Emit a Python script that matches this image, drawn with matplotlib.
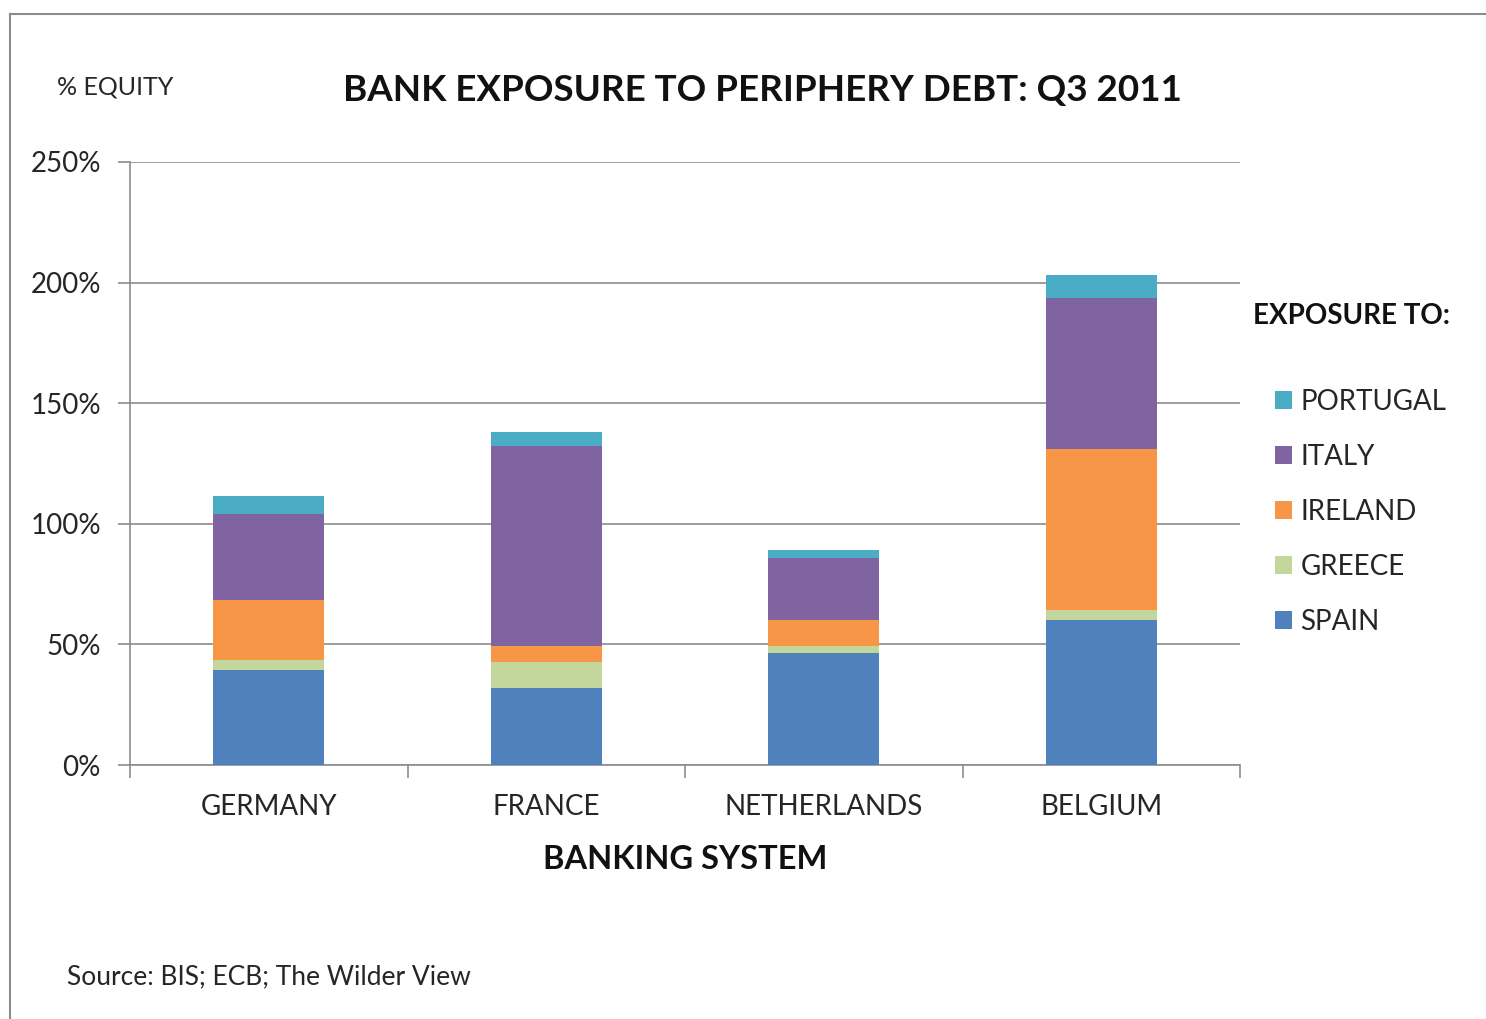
import matplotlib
matplotlib.use("Agg")
import matplotlib.pyplot as plt
from matplotlib.patches import Patch
from matplotlib.lines import Line2D
import numpy as np

plt.rcParams['font.family'] = ['Lato', 'DejaVu Sans']

countries = ["GERMANY", "FRANCE", "NETHERLANDS", "BELGIUM"]
spain    = [39.4, 31.9, 46.6, 60.1]
greece   = [4.1, 10.8, 2.7, 4.2]
ireland  = [24.9, 6.6, 10.8, 66.6]
italy    = [35.7, 83.0, 25.6, 62.9]
portugal = [7.4, 5.8, 3.4, 9.4]

series_names = ["SPAIN", "GREECE", "IRELAND", "ITALY", "PORTUGAL"]
series_vals = [spain, greece, ireland, italy, portugal]
colors = ["#4F81BD", "#C3D69B", "#F79646", "#8064A2", "#4BACC6"]
yticks = [0, 50, 100, 150, 200, 250]
ytick_labels = ["0%", "50%", "100%", "150%", "200%", "250%"]

fig = plt.figure(figsize=(14.86, 10.19), dpi=100)
W, H = 1486, 1019
ax = fig.add_axes([130 / W, 1 - 765 / H, (1240 - 130) / W, (765 - 162) / H])

x = np.arange(len(countries))
bottom = np.zeros(len(countries))
for name, vals, c in zip(series_names, series_vals, colors):
    ax.bar(x, vals, width=0.4, bottom=bottom, color=c, label=name, zorder=3)
    bottom += np.array(vals)

ax.set_xlim(-0.5, len(countries) - 0.5)
ax.set_ylim(0, 250)
ax.set_yticks(yticks)
ax.set_yticklabels(ytick_labels, fontsize=20, color="#262626")
ax.yaxis.grid(True, color="#8c8c8c", linewidth=1.2, zorder=0)
ax.set_xticks(x)
ax.set_xticklabels(countries, fontsize=20, color="#262626")
ax.tick_params(axis='x', length=0, pad=21)
ax.tick_params(axis='y', length=9, width=1.2, color="#8c8c8c", pad=12)
ax.set_xticks(np.arange(len(countries) + 1) - 0.5, minor=True)
ax.tick_params(axis='x', which='minor', length=9, width=1.2, color="#8c8c8c")
for s in ["top", "right"]:
    ax.spines[s].set_visible(False)
for s in ["left", "bottom"]:
    ax.spines[s].set_color("#8c8c8c")
    ax.spines[s].set_linewidth(1.2)

ax.set_xlabel("BANKING SYSTEM", fontsize=23.5, fontweight="bold", color="#111111", labelpad=18)

fig.text(762 / W, 1 - 90 / H, "BANK EXPOSURE TO PERIPHERY DEBT: Q3 2011", fontsize=26.5,
         fontweight="bold", ha="center", va="center", color="#111111")
fig.text(57 / W, 1 - 87 / H, "% EQUITY", fontsize=18, ha="left", va="center", color="#262626")
fig.text(67 / W, 1 - 977 / H, "Source: BIS; ECB; The Wilder View", fontsize=19, ha="left",
         va="center", color="#262626")
fig.text(1253 / W, 1 - 316 / H, "EXPOSURE TO:", fontsize=20, fontweight="bold", ha="left",
         va="center", color="#111111")

handles = [Patch(facecolor=c, edgecolor='none') for c in colors][::-1]
labels = series_names[::-1]
leg = fig.legend(handles, labels, loc="upper left", bbox_to_anchor=(1275 / W, 1 - 389 / H),
                 frameon=False, fontsize=20, handlelength=0.62, handleheight=0.62,
                 handletextpad=0.29, labelspacing=1.04, borderpad=0, borderaxespad=0)
for t in leg.get_texts():
    t.set_color("#262626")

fig.add_artist(Line2D([10 / W, 1.0], [1 - 14 / H, 1 - 14 / H], color="#8c8c8c", linewidth=1.5))
fig.add_artist(Line2D([10 / W, 10 / W], [1 - 14 / H, 0.0], color="#8c8c8c", linewidth=1.5))

fig.savefig("out.png", dpi=100, facecolor="white")
